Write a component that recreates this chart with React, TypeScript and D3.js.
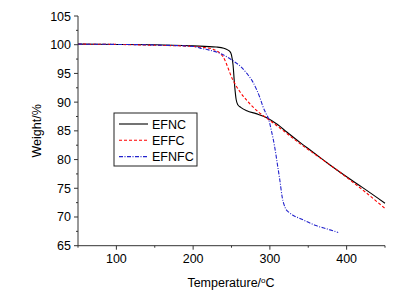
import React from "react";
import * as d3 from "d3";

const efncT = [50, 100, 150, 200, 230, 240, 245, 248, 250, 252, 254, 256, 258, 262, 270, 282, 296, 310, 322, 340, 352, 370, 382, 400, 420, 450];
const efncW = [100.1, 100.05, 100, 99.8, 99.6, 99.4, 99.1, 98.8, 98.2, 96.5, 93, 90.5, 89.6, 89.1, 88.5, 88.0, 87.3, 86.1, 84.8, 82.9, 81.7, 79.9, 78.7, 77.0, 75.2, 72.4];

const effcT = [50, 100, 150, 200, 215, 226, 239, 252, 261, 270, 285, 296, 310, 339, 360, 382, 400, 420, 450];
const effcW = [100.1, 100.05, 99.9, 99.7, 99.5, 99.2, 97.9, 93.8, 91.8, 90.3, 88.3, 87.2, 85.8, 82.8, 80.8, 78.7, 76.9, 74.8, 71.5];

const efnfcT = [50, 100, 150, 200, 209, 220, 235, 252, 262, 270, 277, 283, 287, 291, 295, 298, 302, 306, 310, 313, 316, 320, 325, 330, 340, 348, 360, 375, 389];
const efnfcW = [100.1, 100.05, 99.95, 99.7, 99.4, 99.1, 98.5, 97.2, 96.2, 95.0, 93.7, 92.1, 90.8, 89.2, 88.0, 87.2, 85.0, 82.4, 79.0, 76.4, 73.5, 71.6, 70.8, 70.3, 69.7, 69.2, 68.5, 67.9, 67.3];

const xTicks = [100, 200, 300, 400];
const xMinor = [50, 150, 250, 350, 450];
const yTicks = [65, 70, 75, 80, 85, 90, 95, 100, 105];
const yMinor = [67.5, 72.5, 77.5, 82.5, 87.5, 92.5, 97.5, 102.5];

const seriesNames = ["EFNC", "EFFC", "EFNFC"];

export default function App() {
  const W = 413, H = 295;
  const left = 78, right = 385, top = 16, bottom = 245.7;
  const x = d3.scaleLinear().domain([50, 450]).range([left, right]);
  const y = d3.scaleLinear().domain([65, 105]).range([bottom, top]);
  const line = d3.line<[number, number]>().x(d => x(d[0])).y(d => y(d[1])).curve(d3.curveMonotoneX);
  const zip = (a: number[], b: number[]) => a.map((t, i) => [t, b[i]] as [number, number]);
  const series = [
    { name: seriesNames[0], d: zip(efncT, efncW), color: "#000000", dash: "none", w: 1.1 },
    { name: seriesNames[1], d: zip(effcT, effcW), color: "#ff0000", dash: "3,2", w: 1.1 },
    { name: seriesNames[2], d: zip(efnfcT, efnfcW), color: "#2222cc", dash: "4,1.5,1,1.5", w: 1.1 },
  ];
  const font = "'Liberation Sans', Arial, sans-serif";
  const axisColor = "#333";
  return (
    <svg width={W} height={H} style={{ position: "absolute", left: 0, top: 0, background: "#fff" }} fontFamily={font}>
      <rect width={W} height={H} fill="#fff" />
      {series.map(s => (
        <path key={s.name} d={line(s.d) || ""} fill="none" stroke={s.color} strokeWidth={s.w} strokeDasharray={s.dash} />
      ))}
      <line x1={left} x2={left} y1={top} y2={bottom} stroke={axisColor} strokeWidth={1} />
      <line x1={left} x2={right} y1={bottom} y2={bottom} stroke={axisColor} strokeWidth={1} />
      {yTicks.map(t => (
        <g key={"y" + t}>
          <line x1={left - 4} x2={left} y1={y(t)} y2={y(t)} stroke={axisColor} />
          <text x={left - 7} y={y(t) + 4.5} textAnchor="end" fontSize={12.5} fill="#000">{t}</text>
        </g>
      ))}
      {yMinor.map(t => (
        <line key={"ym" + t} x1={left - 2} x2={left} y1={y(t)} y2={y(t)} stroke={axisColor} />
      ))}
      {xTicks.map(t => (
        <g key={"x" + t}>
          <line x1={x(t)} x2={x(t)} y1={bottom} y2={bottom + 4} stroke={axisColor} />
          <text x={x(t)} y={bottom + 17} textAnchor="middle" fontSize={12.5} fill="#000">{t}</text>
        </g>
      ))}
      {xMinor.map(t => (
        <line key={"xm" + t} x1={x(t)} x2={x(t)} y1={bottom} y2={bottom + 2} stroke={axisColor} />
      ))}
      <text x={231} y={287} textAnchor="middle" fontSize={12.5} fill="#000">
        Temperature/<tspan dy={-4} fontSize={8}>o</tspan><tspan dy={4}>C</tspan>
      </text>
      <text transform={`translate(41,${(top + bottom) / 2}) rotate(-90)`} textAnchor="middle" fontSize={12.5} fill="#000">Weight/%</text>
      <rect x={114} y={113} width={83} height={53} fill="#fff" stroke="#222" strokeWidth={1} />
      {series.map((s, i) => (
        <g key={"l" + s.name}>
          <line x1={119} x2={148} y1={124 + i * 16.3} y2={124 + i * 16.3} stroke={s.color} strokeWidth={s.w} strokeDasharray={s.dash} />
          <text x={152} y={124 + i * 16.3 + 4.5} fontSize={12.5} fill="#000">{s.name}</text>
        </g>
      ))}
    </svg>
  );
}
